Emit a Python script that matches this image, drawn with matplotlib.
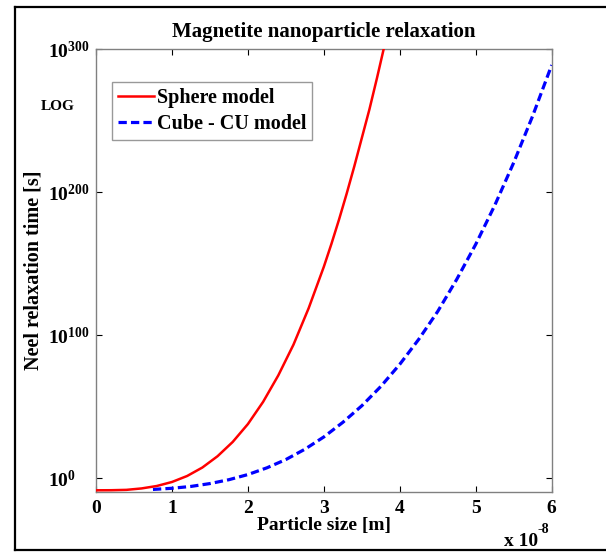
# ══════════════════════════════════════════════════════════════════════════
# Magnetite nanoparticle relaxation
# Neel relaxation time vs particle size, sphere model vs cube (CU) model
# ══════════════════════════════════════════════════════════════════════════

import numpy as np
import matplotlib
matplotlib.use('Agg')
import matplotlib.pyplot as plt
from matplotlib.lines import Line2D
from matplotlib.ticker import FixedLocator, FixedFormatter

# Times-like bold font, also for the mathtext exponents
plt.rcParams['font.family'] = ['Liberation Serif', 'DejaVu Serif']
plt.rcParams['font.weight'] = 'bold'
plt.rcParams['mathtext.fontset'] = 'custom'
plt.rcParams['mathtext.rm'] = 'Liberation Serif:bold'
plt.rcParams['mathtext.bf'] = 'Liberation Serif:bold'
plt.rcParams['mathtext.it'] = 'Liberation Serif:bold:italic'

# ── data (particle size in units of 1e-8 m, log10 of relaxation time) ────
sphere_size = [0.0, 0.2, 0.4, 0.6, 0.8, 1.0, 1.2, 1.4, 1.6, 1.8, 2.0, 2.2,
               2.4, 2.6, 2.8, 3.0, 3.1, 3.2, 3.3, 3.4, 3.5, 3.6, 3.7, 3.8]
sphere_log_tau = [-8.3, -8.25, -8.0, -7.0, -5.3, -2.5, 1.7, 7.6, 15.5, 25.5, 38.0, 53.5,
                  72.0, 93.5, 119.0, 148.0, 164.0, 181.0, 199.0, 218.0, 238.0, 258.0,
                  280.0, 303.0]

cube_size = [0.75, 1.0, 1.25, 1.5, 1.75, 2.0, 2.25, 2.5, 2.75, 3.0, 3.25, 3.5,
             3.75, 4.0, 4.25, 4.5, 4.75, 5.0, 5.25, 5.5, 5.75, 6.0]
cube_log_tau = [-7.7, -6.9, -5.6, -3.6, -0.9, 2.7, 7.4, 13.2, 20.4, 29.0, 39.2, 50.8,
                64.3, 79.8, 97.3, 116.8, 139.2, 163.7, 190.9, 220.8, 253.5, 289.0]

x_ticks = [0, 1, 2, 3, 4, 5, 6]
y_tick_exp = [0, 100, 200, 300]

sphere_tau = 10.0 ** np.array(sphere_log_tau)
cube_tau = 10.0 ** np.array(cube_log_tau)

# ── figure ───────────────────────────────────────────────────────────────
fig = plt.figure(figsize=(6.06, 5.52), dpi=100)
ax = fig.add_axes([0.1584, 0.1092, 0.752, 0.8015])

ax.semilogy(sphere_size, sphere_tau, color='#ff0000', lw=1.8, label='Sphere model', zorder=3)
ax.semilogy(cube_size, cube_tau, color='#0000ff', lw=2.3, linestyle=(0, (2.6, 1.3)),
            label='Cube - CU model', zorder=2)

ax.set_xlim(0, 6)
ax.set_ylim(10.0 ** -9.3, 10.0 ** 300)

ax.xaxis.set_major_locator(FixedLocator(x_ticks))
ax.set_xticklabels([str(t) for t in x_ticks])
ax.yaxis.set_major_locator(FixedLocator([10.0 ** e for e in y_tick_exp]))
ax.yaxis.set_major_formatter(FixedFormatter([r'$10^{%d}$' % e for e in y_tick_exp]))
ax.yaxis.set_minor_locator(FixedLocator([]))

ax.tick_params(direction='in', top=True, right=True, length=4, width=0.8,
               color='black', labelsize=14)
ax.tick_params(axis='x', pad=6)
ax.tick_params(axis='y', pad=34.5)
for lab in ax.get_yticklabels():
    lab.set_horizontalalignment('left')

for sp in ax.spines.values():
    sp.set_color('#808080')
    sp.set_linewidth(1.0)

ax.set_title('Magnetite nanoparticle relaxation', fontsize=15, fontweight='bold', pad=9)
ax.set_xlabel('Particle size [m]', fontsize=14, fontweight='bold', labelpad=0)
ax.set_ylabel('Neel relaxation time [s]', fontsize=14.5, fontweight='bold', va='center')
ax.yaxis.set_label_coords(-0.137, 0.5)

leg = ax.legend(loc='upper left', bbox_to_anchor=(0.0358, 0.9268), borderaxespad=0,
                fontsize=14.5, handlelength=1.75, handletextpad=0.15,
                labelspacing=0.3, borderpad=0.3, fancybox=False)
leg.get_frame().set_edgecolor('#808080')
leg.get_frame().set_linewidth(1.0)
for t in leg.get_texts():
    t.set_fontweight('bold')

# scale factor under the x axis and the stray LOG note
fig.text(538 / 606, 1 - 545.7 / 552, 'x 10', fontsize=14, fontweight='bold',
         ha='right', va='baseline')
fig.text(538 / 606, 1 - 533 / 552, '-8', fontsize=10, fontweight='bold',
         ha='left', va='baseline')
fig.text(57.5 / 606, 1 - 107 / 552, 'LOG', fontsize=11, fontweight='bold',
         ha='center', va='center')

# black frame round the figure (open on the right)
frame_kw = dict(color='black', lw=1.6, transform=fig.transFigure)
fig.add_artist(Line2D([0.0243, 1.0], [0.9879, 0.9879], **frame_kw))
fig.add_artist(Line2D([0.0243, 1.0], [0.0036, 0.0036], **frame_kw))
fig.add_artist(Line2D([0.0243, 0.0243], [0.0036, 0.9879], **frame_kw))

fig.savefig('out.png', dpi=100)
